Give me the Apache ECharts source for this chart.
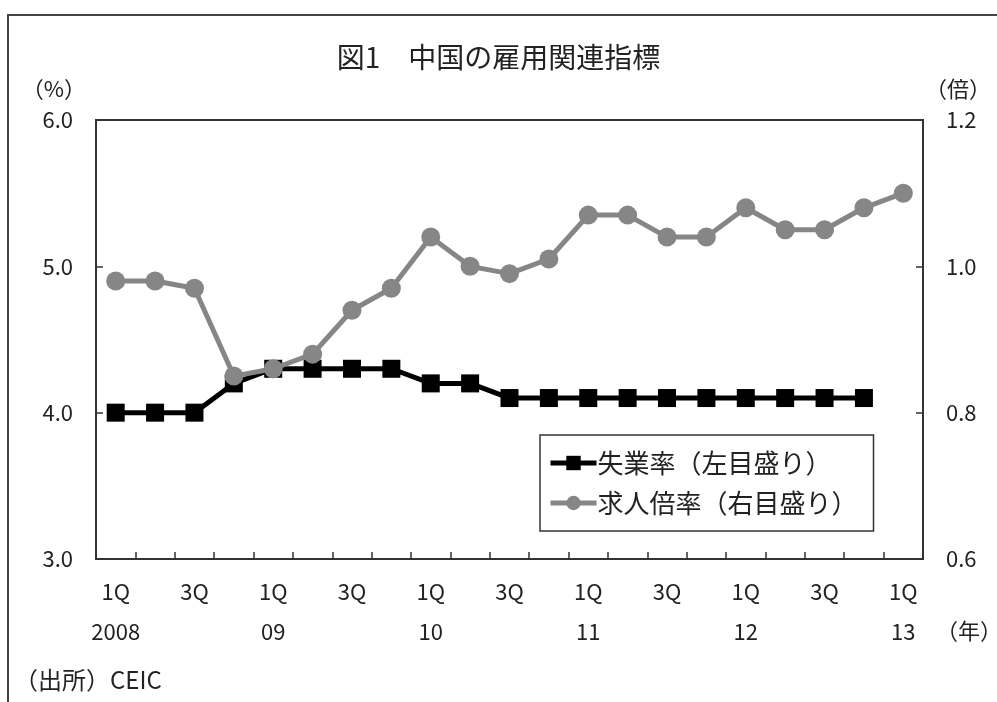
<!DOCTYPE html>
<html>
<head>
<meta charset="utf-8">
<script src="https://cdn.jsdelivr.net/npm/echarts@6/dist/echarts.min.js"></script>
<style>
  html, body { margin: 0; padding: 0; background: #fff; }
  #chart { width: 997px; height: 702px; }
</style>
</head>
<body>
<div id="chart"></div>
<script>
// Quarterly categories, 2008 1Q to 2013 1Q
const categories = [
  '1Q\n2008', '2Q', '3Q', '4Q',
  '1Q\n09', '2Q', '3Q', '4Q',
  '1Q\n10', '2Q', '3Q', '4Q',
  '1Q\n11', '2Q', '3Q', '4Q',
  '1Q\n12', '2Q', '3Q', '4Q',
  '1Q\n13'
];

// Urban registered unemployment rate (%), left scale
const unemploymentRate = [
  4.0, 4.0, 4.0, 4.2,
  4.3, 4.3, 4.3, 4.3,
  4.2, 4.2, 4.1, 4.1,
  4.1, 4.1, 4.1, 4.1,
  4.1, 4.1, 4.1, 4.1
];

// Jobs-to-applicants ratio (times), right scale
const jobOpeningsRatio = [
  0.98, 0.98, 0.97, 0.85,
  0.86, 0.88, 0.94, 0.97,
  1.04, 1.00, 0.99, 1.01,
  1.07, 1.07, 1.04, 1.04,
  1.08, 1.05, 1.05, 1.08,
  1.10
];

const seriesNames = ['失業率（左目盛り）', '求人倍率（右目盛り）'];

const FONT = '"Noto Sans CJK JP", "Noto Sans", sans-serif';
const TEXT = '#222';
const AXIS = '#333';

const chart = echarts.init(document.getElementById('chart'), null, { renderer: 'canvas' });

chart.setOption({
  backgroundColor: '#fff',
  animation: false,
  textStyle: { fontFamily: FONT, color: TEXT },
  title: {
    text: '図1　中国の雇用関連指標',
    left: 'center',
    top: 38,
    textStyle: { fontFamily: FONT, fontSize: 28, fontWeight: 'normal', color: TEXT }
  },
  grid: {
    left: 96, right: 74, top: 120, bottom: 143,
    show: true, borderColor: AXIS, borderWidth: 2, backgroundColor: 'transparent'
  },
  legend: {
    orient: 'vertical',
    left: 540, top: 435,
    width: 353,
    padding: [15, 16, 15, 8],
    itemGap: 14,
    itemWidth: 46,
    itemHeight: 18,
    borderColor: AXIS,
    borderWidth: 1.5,
    lineStyle: { width: 5 },
    textStyle: { fontFamily: FONT, fontSize: 26, color: TEXT, padding: [0, 0, 0, -4] },
    data: seriesNames
  },
  xAxis: {
    type: 'category',
    data: categories,
    boundaryGap: true,
    axisLine: { lineStyle: { color: AXIS, width: 2 } },
    axisTick: { show: true, inside: true, length: 7, interval: 0, lineStyle: { color: AXIS, width: 1.5 } },
    axisLabel: {
      interval: 1,
      margin: 13,
      fontFamily: FONT, fontSize: 22, color: TEXT, lineHeight: 40
    },
    splitLine: { show: false }
  },
  yAxis: [
    {
      type: 'value',
      min: 3, max: 6, interval: 1,
      name: '（%）',
      nameLocation: 'end',
      nameGap: 20,
      nameTextStyle: { fontFamily: FONT, fontSize: 22, color: TEXT, align: 'right', padding: [0, 10, 0, 0] },
      axisLine: { show: true, lineStyle: { color: AXIS, width: 2 } },
      axisTick: { show: true, inside: true, length: 7, lineStyle: { color: AXIS, width: 1.5 } },
      axisLabel: { margin: 23, fontFamily: FONT, fontSize: 22, color: TEXT, formatter: v => v.toFixed(1) },
      splitLine: { show: false }
    },
    {
      type: 'value',
      min: 0.6, max: 1.2, interval: 0.2,
      name: '（倍）',
      nameLocation: 'end',
      nameGap: 20,
      nameTextStyle: { fontFamily: FONT, fontSize: 22, color: TEXT, align: 'left', padding: [0, 0, 0, 2] },
      axisLine: { show: true, lineStyle: { color: AXIS, width: 2 } },
      axisTick: { show: true, inside: true, length: 7, lineStyle: { color: AXIS, width: 1.5 } },
      axisLabel: { margin: 23, fontFamily: FONT, fontSize: 22, color: TEXT, formatter: v => v.toFixed(1) },
      splitLine: { show: false }
    }
  ],
  series: [
    {
      name: seriesNames[0],
      type: 'line',
      yAxisIndex: 0,
      data: unemploymentRate,
      symbol: 'rect',
      symbolSize: 18,
      lineStyle: { color: '#000', width: 5 },
      itemStyle: { color: '#000' },
      z: 3
    },
    {
      name: seriesNames[1],
      type: 'line',
      yAxisIndex: 1,
      data: jobOpeningsRatio,
      symbol: 'circle',
      symbolSize: 19,
      lineStyle: { color: '#868686', width: 5 },
      itemStyle: { color: '#868686' },
      z: 4
    }
  ],
  graphic: [
    {
      type: 'rect',
      z: -10,
      shape: { x: 8, y: 15, width: 1200, height: 1000 },
      style: { fill: 'none', stroke: '#444', lineWidth: 2 }
    },
    {
      type: 'text',
      left: 936, top: 620,
      style: { text: '（年）', font: '22px ' + FONT, fill: TEXT }
    },
    {
      type: 'text',
      left: 14, top: 668,
      style: { text: '（出所）CEIC', font: '24px ' + FONT, fill: TEXT }
    }
  ]
});
</script>
</body>
</html>
